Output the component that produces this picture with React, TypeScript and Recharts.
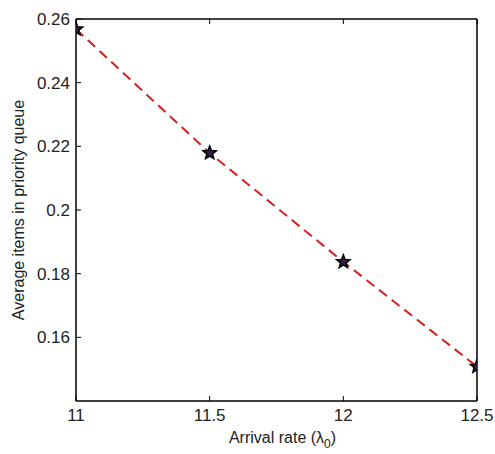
import React from "react";
import { Label, Line, LineChart, XAxis, YAxis } from "recharts";

const arrivalRates = [11, 11.5, 12, 12.5];
const avgItems = [0.2568, 0.2179, 0.1837, 0.1508];
const xTicks = [11, 11.5, 12, 12.5];
const yTicks = [0.16, 0.18, 0.2, 0.22, 0.24, 0.26];

const data = arrivalRates.map((x, i) => ({ x, y: avgItems[i] }));

const FONT = "'Liberation Sans', Arial, sans-serif";
const TICK_LEN = 5;

const BottomTick = (props: any) => {
  const { x, y, payload } = props;
  return (
    <g>
      <line x1={x} y1={y} x2={x} y2={y - TICK_LEN} stroke="#000" />
      <text x={x} y={y + 20} textAnchor="middle" fontSize={17} fontFamily={FONT} fill="#222">
        {payload.value}
      </text>
    </g>
  );
};

const TopTick = (props: any) => {
  const { x, y } = props;
  return <line x1={x} y1={y} x2={x} y2={y + TICK_LEN} stroke="#000" />;
};

const LeftTick = (props: any) => {
  const { x, y, payload } = props;
  return (
    <g>
      <line x1={x} y1={y} x2={x + TICK_LEN} y2={y} stroke="#000" />
      <text x={x - 6} y={y + 6} textAnchor="end" fontSize={17} fontFamily={FONT} fill="#222">
        {payload.value}
      </text>
    </g>
  );
};

const RightTick = (props: any) => {
  const { x, y } = props;
  return <line x1={x} y1={y} x2={x - TICK_LEN} y2={y} stroke="#000" />;
};

const Star = (props: any) => {
  const { cx, cy } = props;
  if (cx == null || cy == null) return null;
  const outer = 7;
  const inner = 3;
  const pts: string[] = [];
  for (let k = 0; k < 10; k++) {
    const r = k % 2 === 0 ? outer : inner;
    const a = -Math.PI / 2 + (k * Math.PI) / 5;
    pts.push(`${cx + r * Math.cos(a)},${cy + r * Math.sin(a)}`);
  }
  return <polygon points={pts.join(" ")} fill="#3a1a4a" stroke="#000" strokeWidth={1.5} />;
};

const XLabel = (props: any) => {
  const vb = props.viewBox;
  return (
    <text
      x={vb.x + vb.width / 2 + 6}
      y={vb.y + 42}
      textAnchor="middle"
      fontSize={16}
      fontFamily={FONT}
      fill="#222"
    >
      Arrival rate (λ<tspan fontSize={12} dy={5}>0</tspan>
      <tspan dy={-5}>)</tspan>
    </text>
  );
};

const YLabel = (props: any) => {
  const vb = props.viewBox;
  const cx = vb.x + 2;
  const cy = vb.y + vb.height / 2;
  return (
    <text
      x={cx}
      y={cy}
      transform={`rotate(-90 ${cx} ${cy})`}
      textAnchor="middle"
      dominantBaseline="central"
      fontSize={16}
      fontFamily={FONT}
      fill="#222"
    >
      Average items in priority queue
    </text>
  );
};

export default function App() {
  return (
    <div style={{ position: "absolute", left: 0, top: 0, background: "#fff" }}>
      <LineChart width={495} height={454} data={data} margin={{ top: 18, right: 17, bottom: 0, left: 16 }}>
        <XAxis
          xAxisId="b"
          dataKey="x"
          type="number"
          domain={[11, 12.5]}
          ticks={xTicks}
          tick={<BottomTick />}
          tickLine={false}
          tickSize={0}
          tickMargin={0}
          axisLine={{ stroke: "#000", strokeWidth: 1.5 }}
          height={53}
          allowDataOverflow
        >
          <Label content={<XLabel />} />
        </XAxis>
        <XAxis
          xAxisId="t"
          orientation="top"
          dataKey="x"
          type="number"
          domain={[11, 12.5]}
          ticks={xTicks}
          tick={<TopTick />}
          tickLine={false}
          tickSize={0}
          tickMargin={0}
          axisLine={{ stroke: "#000", strokeWidth: 1.5 }}
          height={1}
        />
        <YAxis
          yAxisId="l"
          type="number"
          domain={[0.14, 0.26]}
          ticks={yTicks}
          tick={<LeftTick />}
          tickLine={false}
          tickSize={0}
          tickMargin={0}
          axisLine={{ stroke: "#000", strokeWidth: 1.5 }}
          width={60}
          allowDataOverflow
        >
          <Label content={<YLabel />} />
        </YAxis>
        <YAxis
          yAxisId="r"
          orientation="right"
          type="number"
          domain={[0.14, 0.26]}
          ticks={yTicks}
          tick={<RightTick />}
          tickLine={false}
          tickSize={0}
          tickMargin={0}
          axisLine={{ stroke: "#000", strokeWidth: 1.5 }}
          width={1}
        />
        <Line
          xAxisId="b"
          yAxisId="l"
          dataKey="y"
          type="linear"
          stroke="#d42020"
          strokeWidth={2}
          strokeDasharray="10 6"
          dot={<Star />}
          isAnimationActive={false}
        />
      </LineChart>
    </div>
  );
}
